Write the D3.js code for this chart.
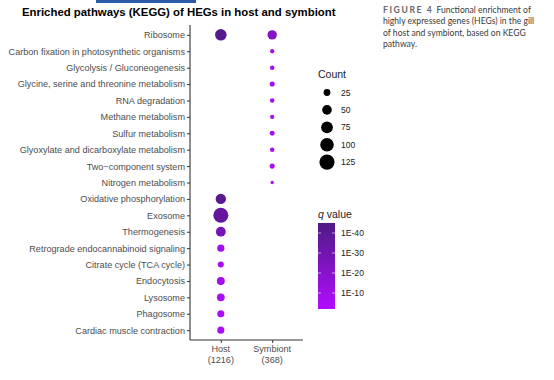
<!DOCTYPE html>
<html>
<head>
<meta charset="utf-8">
<script src="https://cdn.jsdelivr.net/npm/d3@7"></script>
<style>
  body { margin: 0; background: #fff; }
  svg { display: block; }
</style>
</head>
<body>
<div id="chart"></div>
<script>
// pathways, top to bottom
const pathways = [
  "Ribosome",
  "Carbon fixation in photosynthetic organisms",
  "Glycolysis / Gluconeogenesis",
  "Glycine, serine and threonine metabolism",
  "RNA degradation",
  "Methane metabolism",
  "Sulfur metabolism",
  "Glyoxylate and dicarboxylate metabolism",
  "Two\u2212component system",
  "Nitrogen metabolism",
  "Oxidative phosphorylation",
  "Exosome",
  "Thermogenesis",
  "Retrograde endocannabinoid signaling",
  "Citrate cycle (TCA cycle)",
  "Endocytosis",
  "Lysosome",
  "Phagosome",
  "Cardiac muscle contraction"
]
const groups = ["Host", "Symbiont"]
const groupTotals = [1216, 368]

// host: pathway, gene count, -log10(q)
const hostPathways = ["Ribosome", "Oxidative phosphorylation", "Exosome", "Thermogenesis",
  "Retrograde endocannabinoid signaling", "Citrate cycle (TCA cycle)", "Endocytosis",
  "Lysosome", "Phagosome", "Cardiac muscle contraction"]
const hostCounts = [72, 58, 122, 52, 28, 20, 34, 33, 27, 27]
const hostLogQ = [42, 41, 36, 28, 8, 6, 7, 6, 5, 5]

// symbiont
const symbPathways = ["Ribosome", "Carbon fixation in photosynthetic organisms",
  "Glycolysis / Gluconeogenesis", "Glycine, serine and threonine metabolism", "RNA degradation",
  "Methane metabolism", "Sulfur metabolism", "Glyoxylate and dicarboxylate metabolism",
  "Two\u2212component system", "Nitrogen metabolism"]
const symbCounts = [48, 10, 11, 14, 11, 10, 13, 11, 14, 6]
const symbLogQ = [22, 8, 7, 7, 6, 6, 7, 6, 6, 4]

const sizeBreaks = [25, 50, 75, 100, 125]
const qBreaks = [40, 30, 20, 10]
const qLabels = ["1E-40", "1E-30", "1E-20", "1E-10"]

const points = []
hostPathways.forEach((p, i) => points.push({ group: "Host", path: p, count: hostCounts[i], q: hostLogQ[i] }))
symbPathways.forEach((p, i) => points.push({ group: "Symbiont", path: p, count: symbCounts[i], q: symbLogQ[i] }))

const width = 554, height = 380
const svg = d3.select("#chart").append("svg")
  .attr("width", width).attr("height", height)
  .style("font-family", "Liberation Sans, Arial, sans-serif")

// journal header strip
svg.append("rect").attr("x", 96).attr("y", 0).attr("width", 100).attr("height", 3).attr("fill", "#2c5ba6")

// title, sized to fit the same span as the original
const title = svg.append("text")
  .attr("x", 22).attr("y", 16)
  .style("font-weight", "bold").style("font-size", "14px")
  .text("Enriched pathways (KEGG) of HEGs in host and symbiont")
const tw = title.node().getComputedTextLength()
title.style("font-size", (14 * 314 / tw) + "px")

const plot = { left: 190, right: 303, top: 25, bottom: 340 }

const y = d3.scalePoint().domain(pathways).range([plot.top, plot.bottom]).padding(0.6)
const x = d3.scalePoint().domain(groups).range([plot.left, plot.right]).padding(0.6)
const r = d3.scaleSqrt().domain([0, 125]).range([0, 7.6])
const color = d3.scaleLinear().domain([2, 45]).range(["#b20cff", "#4f1a84"]).interpolate(d3.interpolateRgb)

// y axis
const yAxis = svg.append("g").attr("transform", `translate(${plot.left},0)`)
  .call(d3.axisLeft(y).tickSize(3).tickPadding(2))
yAxis.select(".domain").attr("stroke", "#333").attr("stroke-width", 1.1).attr("d", `M0,${plot.top}V${plot.bottom}`)
yAxis.selectAll(".tick line").attr("stroke", "#333")
yAxis.selectAll(".tick text").attr("fill", "#4d4d4d").style("font-size", "9.1px")
  .style("font-family", "Liberation Sans, Arial, sans-serif")

// x axis
const xAxis = svg.append("g").attr("transform", `translate(0,${plot.bottom})`)
  .call(d3.axisBottom(x).tickSize(3).tickFormat(""))
xAxis.select(".domain").attr("stroke", "#333").attr("stroke-width", 1.1).attr("d", `M${plot.left},0H${plot.right}`)
xAxis.selectAll(".tick line").attr("stroke", "#333")
groups.forEach((g, i) => {
  const t = svg.append("text").attr("text-anchor", "middle")
    .attr("fill", "#4d4d4d").style("font-size", "9.1px")
  t.append("tspan").attr("x", x(g)).attr("y", plot.bottom + 12).text(g)
  t.append("tspan").attr("x", x(g)).attr("y", plot.bottom + 23).text("(" + groupTotals[i] + ")")
})

// points
svg.append("g").selectAll("circle")
  .data(points)
  .enter().append("circle")
  .attr("cx", d => x(d.group))
  .attr("cy", d => y(d.path))
  .attr("r", d => r(d.count))
  .attr("fill", d => color(d.q))

// size legend
const lx = 318
svg.append("text").attr("x", lx).attr("y", 78).style("font-size", "10.5px").attr("fill", "#222").text("Count")
sizeBreaks.forEach((s, i) => {
  const cy = 92.5 + i * 17.4
  svg.append("circle").attr("cx", 327).attr("cy", cy).attr("r", r(s)).attr("fill", "#000")
  svg.append("text").attr("x", 341).attr("y", cy + 3).style("font-size", "8.6px").attr("fill", "#222").text(s)
})

// colour legend
const qt = svg.append("text").attr("x", lx).attr("y", 218).style("font-size", "10.5px").attr("fill", "#222")
qt.append("tspan").style("font-style", "italic").text("q")
qt.append("tspan").text(" value")

const barTop = 223, barBottom = 309
const qy = d3.scaleLinear().domain([2, 45]).range([barBottom, barTop])
const grad = svg.append("defs").append("linearGradient").attr("id", "qgrad")
  .attr("x1", 0).attr("x2", 0).attr("y1", 1).attr("y2", 0)
d3.range(0, 1.001, 0.1).forEach(t => {
  grad.append("stop").attr("offset", t).attr("stop-color", color(2 + t * 43))
})
svg.append("rect").attr("x", lx).attr("y", barTop).attr("width", 17).attr("height", barBottom - barTop)
  .attr("fill", "url(#qgrad)")
qBreaks.forEach((q, i) => {
  const ty = qy(q)
  svg.append("line").attr("x1", lx).attr("x2", lx + 3).attr("y1", ty).attr("y2", ty).attr("stroke", "#fff").attr("stroke-opacity", 0.6)
  svg.append("line").attr("x1", lx + 14).attr("x2", lx + 17).attr("y1", ty).attr("y2", ty).attr("stroke", "#fff").attr("stroke-opacity", 0.6)
  svg.append("text").attr("x", 341).attr("y", ty + 3).style("font-size", "8.6px").attr("fill", "#222").text(qLabels[i])
})

// figure caption
const capLines = [
  ["FIGURE 4", "Functional enrichment of"],
  ["", "highly expressed genes (HEGs) in the gill"],
  ["", "of host and symbiont, based on KEGG"],
  ["", "pathway."]
]
const cap = svg.append("g").style("font-family", "Lato, sans-serif").style("font-size", "8.6px").attr("fill", "#3a3a3a")
capLines.forEach((l, i) => {
  const t = cap.append("text").attr("x", 383).attr("y", 13 + i * 11.3)
  if (l[0]) {
    t.append("tspan").style("letter-spacing", "1.6px").attr("fill", "#666").style("font-weight", "bold").text(l[0])
    t.append("tspan").attr("dx", 3).text(l[1])
  } else {
    t.text(l[1])
  }
})
</script>
</body>
</html>
